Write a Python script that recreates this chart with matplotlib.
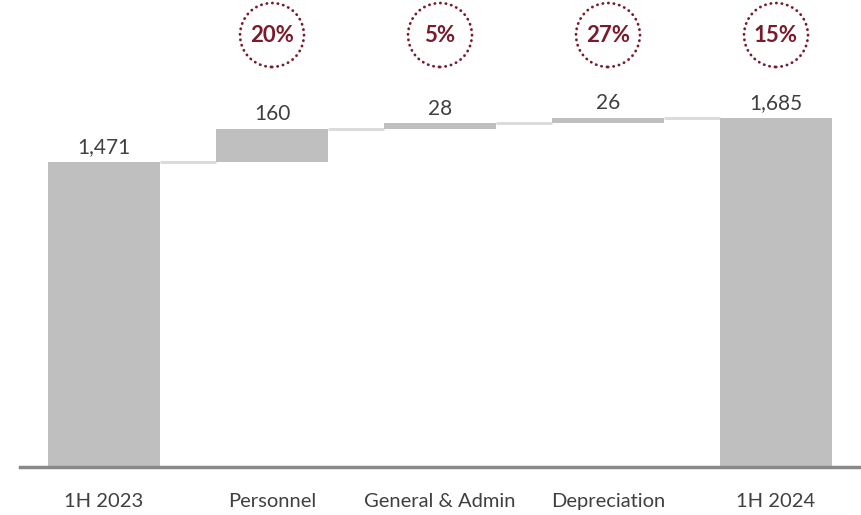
import numpy as np
import matplotlib.pyplot as plt
from matplotlib.patches import Ellipse

# data
cats = ["1H 2023", "Personnel", "General & Admin", "Depreciation", "1H 2024"]
start_val = 1471
deltas = [160, 28, 26]
end_val = 1685
labels = ["1,471", "160", "28", "26", "1,685"]
pct = [None, "20%", "5%", "27%", "15%"]

bar_col = "#BFBFBF"
txt_col = "#404040"
red = "#7B1A2A"

plt.rcParams['font.family'] = ['Lato', 'DejaVu Sans']

fig = plt.figure(figsize=(8.62, 5.15), dpi=100)
ax = fig.add_axes([20 / 862, (515 - 467) / 515, 842 / 862, 467 / 515])

# bottoms / heights for the waterfall
bottoms = [0]
heights = [start_val]
run = start_val
for d in deltas:
    bottoms.append(run)
    heights.append(d)
    run += d
bottoms.append(0)
heights.append(end_val)

x = np.arange(len(cats))
w = 0.667
ax.bar(x, heights, bottom=bottoms, width=w, color=bar_col, zorder=2)

# connectors
tops = [b + h for b, h in zip(bottoms, heights)]
for i in range(len(cats) - 1):
    ax.plot([x[i] + w / 2, x[i + 1] - w / 2], [tops[i], tops[i]],
            color="#D9D9D9", lw=2, zorder=1, solid_capstyle="butt")

# value labels
for i, lab in enumerate(labels):
    ax.text(x[i], tops[i] + 22, lab, ha="center", va="bottom",
            fontsize=15, color=txt_col)

ax.set_xlim(-0.5, 4.512)
ax.set_ylim(0, 2253)
for s in ["top", "right", "left"]:
    ax.spines[s].set_visible(False)
ax.spines["bottom"].set_color("#898989")
ax.spines["bottom"].set_linewidth(2.5)
ax.set_yticks([])
ax.set_xticks(x)
ax.set_xticklabels(cats, fontsize=14.5, color=txt_col)
ax.tick_params(axis="x", length=0, pad=19)

# dotted circles with growth %
to_fig = ax.transData + fig.transFigure.inverted()
r = 32
for i, p in enumerate(pct):
    if p is None:
        continue
    fx, _ = to_fig.transform((x[i], 0))
    fy = 1 - 35 / 515
    e = Ellipse((fx, fy), 2 * r / 862, 2 * r / 515, transform=fig.transFigure,
                fill=False, edgecolor=red, lw=2, linestyle=(0, (0.1, 1.9)),
                capstyle="round")
    fig.add_artist(e)
    fig.text(fx, fy, p, ha="center", va="center", fontsize=16,
             fontweight="bold", color=red)

fig.savefig("out.png", dpi=100)
